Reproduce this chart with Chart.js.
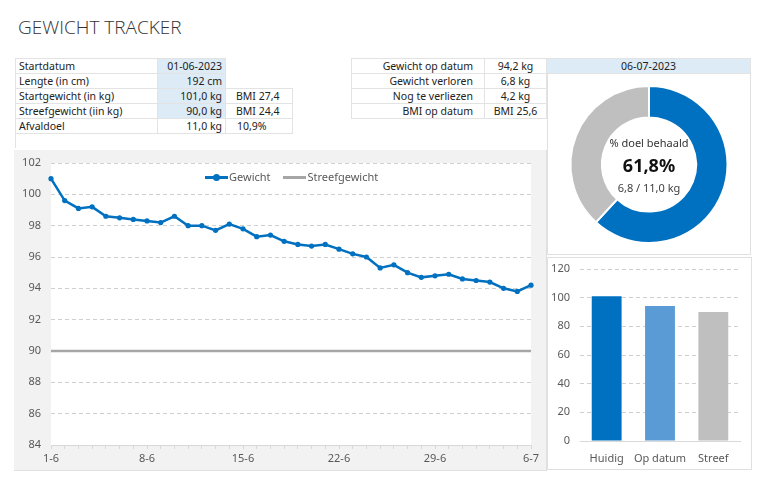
<!DOCTYPE html>
<html><head><meta charset="utf-8">
<script src="https://cdn.jsdelivr.net/npm/chart.js@4/dist/chart.umd.min.js"></script>
<style>
html,body{margin:0;padding:0;background:#fff;width:768px;height:487px;overflow:hidden;font-family:"Noto Sans",sans-serif;color:#222;}
.abs{position:absolute;}
#title{left:18px;top:14px;font-size:19px;font-weight:300;color:#333;font-family:"Open Sans",sans-serif;}
table{border-collapse:collapse;position:absolute;font-size:10.5px;}
td{height:14px;padding:0;border:1px solid #e3e3e3;line-height:14px;white-space:nowrap;}
td.nb{border:none;}
.blue{background:#ddebf7;}
#panelLine{left:14px;top:150px;width:532px;height:320px;background:#f2f2f2;border-right:1px solid #e0e0e0;border-bottom:1px solid #e0e0e0;}
#panelDonut{left:547px;top:73px;width:204px;height:182px;border:1px solid #e0e0e0;border-top:none;box-sizing:border-box;}
#panelBar{left:547px;top:257px;width:205px;height:213px;border:1px solid #e0e0e0;box-sizing:border-box;}
.leg{font-size:11px;color:#595959;}
.ct{width:204px;text-align:center;left:547px;}
</style></head>
<body>
<div id="title" class="abs">GEWICHT TRACKER</div>

<table style="left:15px;top:58px;">
<tr><td style="width:138px;padding-left:3px;">Startdatum</td><td class="blue" style="width:64px;text-align:right;padding-right:3px;">01-06-2023</td><td class="nb" style="width:66px;"></td></tr>
<tr><td style="padding-left:3px;">Lengte (in cm)</td><td class="blue" style="text-align:right;padding-right:3px;">192 cm</td><td class="nb"></td></tr>
<tr><td style="padding-left:3px;">Startgewicht (in kg)</td><td class="blue" style="text-align:right;padding-right:3px;">101,0 kg</td><td style="padding-left:10px;width:55px;">BMI 27,4</td></tr>
<tr><td style="padding-left:3px;">Streefgewicht (iin kg)</td><td class="blue" style="text-align:right;padding-right:3px;">90,0 kg</td><td style="padding-left:10px;">BMI 24,4</td></tr>
<tr><td style="padding-left:3px;">Afvaldoel</td><td style="text-align:right;padding-right:3px;">11,0 kg</td><td style="padding-left:11px;">10,9%</td></tr>
<tr><td style="border-right:none;border-bottom:none;"></td><td class="nb"></td><td class="nb"></td></tr>
</table>

<table style="left:351px;top:58px;">
<tr><td style="width:121px;text-align:right;padding-right:11px;">Gewicht op datum</td><td style="width:61px;text-align:center;">94,2 kg</td><td class="blue" style="width:203px;text-align:center;">06-07-2023</td></tr>
<tr><td style="text-align:right;padding-right:11px;">Gewicht verloren</td><td style="text-align:center;">6,8 kg</td><td class="nb"></td></tr>
<tr><td style="text-align:right;padding-right:11px;">Nog te verliezen</td><td style="text-align:center;">4,2 kg</td><td class="nb"></td></tr>
<tr><td style="text-align:right;padding-right:11px;">BMI op datum</td><td style="text-align:center;">BMI 25,6</td><td class="nb"></td></tr>
</table>

<div id="panelLine" class="abs"></div>
<div class="abs" style="left:14px;top:150px;width:531px;height:319px;"><canvas id="lineC"></canvas></div>
<div class="abs leg" style="left:205px;top:169px;">
 <span style="display:inline-block;position:relative;width:23px;height:3px;background:#0070c0;vertical-align:middle;top:-1px;"><span style="position:absolute;left:8px;top:-2px;width:7px;height:7px;border-radius:50%;background:#0070c0;"></span></span><span style="margin-left:1px;">Gewicht</span>
 <span style="display:inline-block;width:23px;height:3px;background:#a6a6a6;vertical-align:middle;margin-left:10px;position:relative;top:-1px;"></span><span style="margin-left:1px;">Streefgewicht</span>
</div>

<div id="panelDonut" class="abs"></div>
<div class="abs" style="left:548px;top:74px;width:203px;height:181px;"><canvas id="donutC"></canvas></div>
<div class="abs ct" style="top:135px;font-size:11px;color:#333;">% doel behaald</div>
<div class="abs ct" style="top:153px;font-size:18px;font-weight:700;color:#111;">61,8%</div>
<div class="abs ct" style="top:180px;font-size:11px;color:#404040;">6,8 / 11,0 kg</div>

<div id="panelBar" class="abs"></div>
<div class="abs" style="left:548px;top:258px;width:203px;height:211px;"><canvas id="barC"></canvas></div>

<script>
const dayLabels = ["1-6","2-6","3-6","4-6","5-6","6-6","7-6","8-6","9-6","10-6","11-6","12-6","13-6","14-6","15-6","16-6","17-6","18-6","19-6","20-6","21-6","22-6","23-6","24-6","25-6","26-6","27-6","28-6","29-6","30-6","1-7","2-7","3-7","4-7","5-7","6-7"];
const gewicht = [101.0,99.6,99.1,99.2,98.6,98.5,98.4,98.3,98.2,98.6,98.0,98.0,97.7,98.1,97.8,97.3,97.4,97.0,96.8,96.7,96.8,96.5,96.2,96.0,95.3,95.5,95.0,94.7,94.8,94.9,94.6,94.5,94.4,94.0,93.8,94.2];
const streefgewicht = [90,90,90,90,90,90,90,90,90,90,90,90,90,90,90,90,90,90,90,90,90,90,90,90,90,90,90,90,90,90,90,90,90,90,90,90];
const yTicksLine = {min:84, max:102, step:2};
const donutLabels = ["Behaald","Resterend"];
const donutValues = [6.8, 4.2];
const barLabels = ["Huidig","Op datum","Streef"];
const barValues = [101.0, 94.2, 90.0];
const yTicksBar = {min:0, max:120, step:20};

const FONT = {family:'"Noto Sans", sans-serif', size:11};
const AX = '#595959', GRID = '#d9d9d9';

const whiteArea = {id:'whiteArea', beforeDraw(c){const a=c.chartArea, x=c.ctx; x.save(); x.fillStyle='#fff'; x.fillRect(a.left,a.top,a.right-a.left,a.bottom-a.top); x.restore();}};

new Chart(document.getElementById('lineC'), {
  type:'line',
  data:{labels:dayLabels, datasets:[
    {label:'Gewicht', data:gewicht, borderColor:'#0070c0', backgroundColor:'#0070c0', borderWidth:2.5, pointRadius:2.6, pointBorderWidth:0, tension:0, order:1},
    {label:'Streefgewicht', data:streefgewicht, borderColor:'#a6a6a6', backgroundColor:'#a6a6a6', borderWidth:2.5, pointRadius:0, tension:0, order:2}
  ]},
  options:{responsive:true, maintainAspectRatio:false, animation:false,
    layout:{padding:{top:13,right:14,left:0,bottom:0}},
    plugins:{legend:{display:false}, tooltip:{enabled:false}},
    scales:{
      x:{grid:{drawOnChartArea:false, drawTicks:true, tickLength:4, color:GRID}, border:{color:GRID},
         ticks:{autoSkip:false, maxRotation:0, color:AX, font:FONT, padding:3, callback:(v,i)=> i%7===0 ? dayLabels[i] : ''},
         afterFit(a){a.height=24;}},
      y:{min:yTicksLine.min, max:yTicksLine.max, ticks:{stepSize:yTicksLine.step, color:AX, font:FONT, padding:2},
         grid:{color:'#d0d0d0', drawTicks:true, tickLength:8, tickColor:'rgba(0,0,0,0)'}, border:{display:false, dash:[4,3]},
         afterFit(a){a.width=37;}}
    }},
  plugins:[whiteArea]
});

new Chart(document.getElementById('donutC'), {
  type:'doughnut',
  data:{labels:donutLabels, datasets:[{data:donutValues, backgroundColor:['#0070c0','#bfbfbf'], borderColor:'#fff', borderWidth:2}]},
  options:{responsive:true, maintainAspectRatio:false, animation:false, cutout:'60%',
    layout:{padding:{left:21,right:22,top:11,bottom:11}},
    plugins:{legend:{display:false}, tooltip:{enabled:false}}}
});

new Chart(document.getElementById('barC'), {
  type:'bar',
  data:{labels:barLabels, datasets:[{data:barValues, backgroundColor:['#0070c0','#5b9bd5','#bfbfbf'], barPercentage:0.56, categoryPercentage:1.0}]},
  options:{responsive:true, maintainAspectRatio:false, animation:false,
    layout:{padding:{top:11,right:11,left:0,bottom:0}},
    plugins:{legend:{display:false}, tooltip:{enabled:false}},
    scales:{
      x:{grid:{display:false}, border:{color:GRID}, ticks:{autoSkip:false, maxRotation:0, minRotation:0, color:AX, font:FONT, padding:3}, afterFit(a){a.height=28;}},
      y:{min:yTicksBar.min, max:yTicksBar.max, ticks:{stepSize:yTicksBar.step, color:AX, font:FONT, padding:2},
         grid:{color:'#d0d0d0', drawTicks:true, tickLength:8, tickColor:'rgba(0,0,0,0)'}, border:{display:false, dash:[4,3]}, afterFit(a){a.width=32;}}
    }}
});
</script>
</body></html>
